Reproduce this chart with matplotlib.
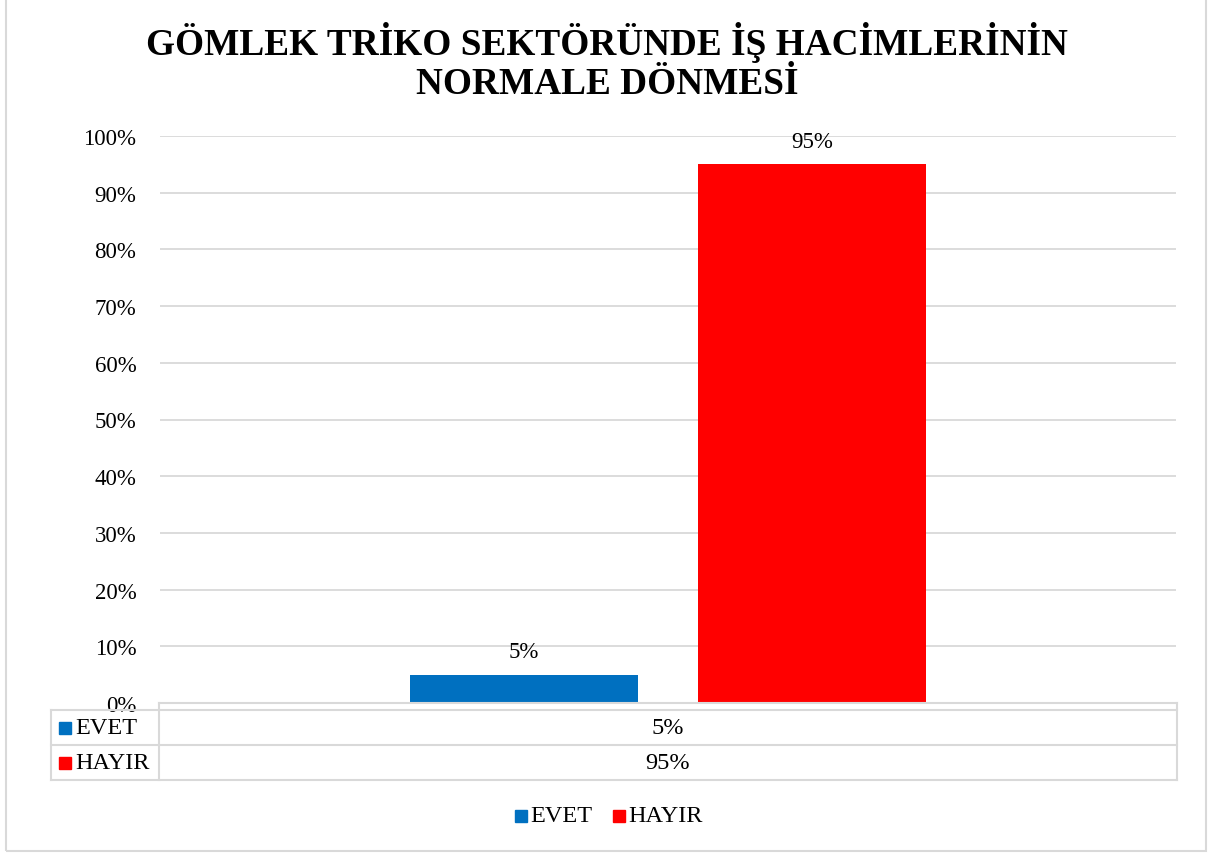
import matplotlib
matplotlib.use("Agg")
import matplotlib.pyplot as plt
from matplotlib.patches import Rectangle
from matplotlib.lines import Line2D

# ---- data ----
series_names = ["EVET", "HAYIR"]
series_values = [0.05, 0.95]
series_colors = ["#0070C0", "#FF0000"]
value_labels = ["5%", "95%"]
yticks = [0.0, 0.1, 0.2, 0.3, 0.4, 0.5, 0.6, 0.7, 0.8, 0.9, 1.0]
ytick_labels = ["0%", "10%", "20%", "30%", "40%", "50%", "60%", "70%", "80%", "90%", "100%"]
title_text = "GÖMLEK TRİKO SEKTÖRÜNDE İŞ HACİMLERİNİN\nNORMALE DÖNMESİ"

W, H = 1214, 854
plt.rcParams['font.family'] = ['Liberation Serif', 'DejaVu Serif']
fig = plt.figure(figsize=(W / 100, H / 100), dpi=100)

def fx(x):
    return x / W

def fy(y):
    return 1 - y / H

GRID = "#D9D9D9"

# outer border (top edge lies above the image)
fig.add_artist(Rectangle((fx(6), fy(852)), fx(1206) - fx(6), fy(-3) - fy(852),
                         transform=fig.transFigure, fill=False, edgecolor=GRID, lw=1.5))

# plot axes
L, R, T, B = 160, 1176, 137, 704
ax = fig.add_axes([fx(L), fy(B), fx(R) - fx(L), fy(T) - fy(B)])
ax.set_xlim(-0.5, 0.5)
ax.set_ylim(0, 1.0)
offsets = [-0.1417, 0.1417]
bw = 0.225
for off, v, c, lab in zip(offsets, series_values, series_colors, value_labels):
    ax.bar(off, v, width=bw, color=c, zorder=3)
    ax.annotate(lab, (off, v), xytext=(0, 9), textcoords="offset points",
                ha="center", va="bottom", fontsize=16.5)
ax.set_yticks(yticks)
ax.set_yticklabels(ytick_labels, fontsize=16.5)
ax.set_xticks([])
ax.grid(axis="y", color=GRID, lw=1.3, zorder=0)
ax.tick_params(axis="y", length=0, pad=17)
for s in ax.spines.values():
    s.set_visible(False)

# title
fig.text(0.5, fy(62), title_text, ha="center", va="center", fontsize=26.8,
         fontweight="bold", linespacing=1.12)

# data table
def hline(x0, x1, y):
    fig.add_artist(Line2D([fx(x0), fx(x1)], [fy(y), fy(y)], color=GRID, lw=1.5,
                          transform=fig.transFigure))

def vline(x, y0, y1):
    fig.add_artist(Line2D([fx(x), fx(x)], [fy(y0), fy(y1)], color=GRID, lw=1.5,
                          transform=fig.transFigure))

hline(159, 1177, 704)
rows_y = [711, 746, 781]
for y in rows_y:
    hline(51, 1177, y)
vline(51, 711, 781)
vline(159, 704, 781)
vline(1177, 704, 781)

center_x = (L + R) / 2
for i, (name, c, lab) in enumerate(zip(series_names, series_colors, value_labels)):
    yc = (rows_y[i] + rows_y[i + 1]) / 2
    fig.add_artist(Rectangle((fx(59), fy(yc + 6)), fx(12), 12 / H,
                             transform=fig.transFigure, color=c))
    fig.text(fx(75), fy(yc), name, ha="left", va="center", fontsize=17.5)
    fig.text(fx(center_x), fy(yc), lab, ha="center", va="center", fontsize=17.5)

# legend
leg_y = 817
leg_items = [(515, 530), (613, 628)]
for (sx, tx), name, c in zip(leg_items, series_names, series_colors):
    fig.add_artist(Rectangle((fx(sx), fy(leg_y + 6)), fx(12), 12 / H,
                             transform=fig.transFigure, color=c))
    fig.text(fx(tx), fy(leg_y), name, ha="left", va="center", fontsize=17.5)

fig.savefig("out.png", dpi=100)
